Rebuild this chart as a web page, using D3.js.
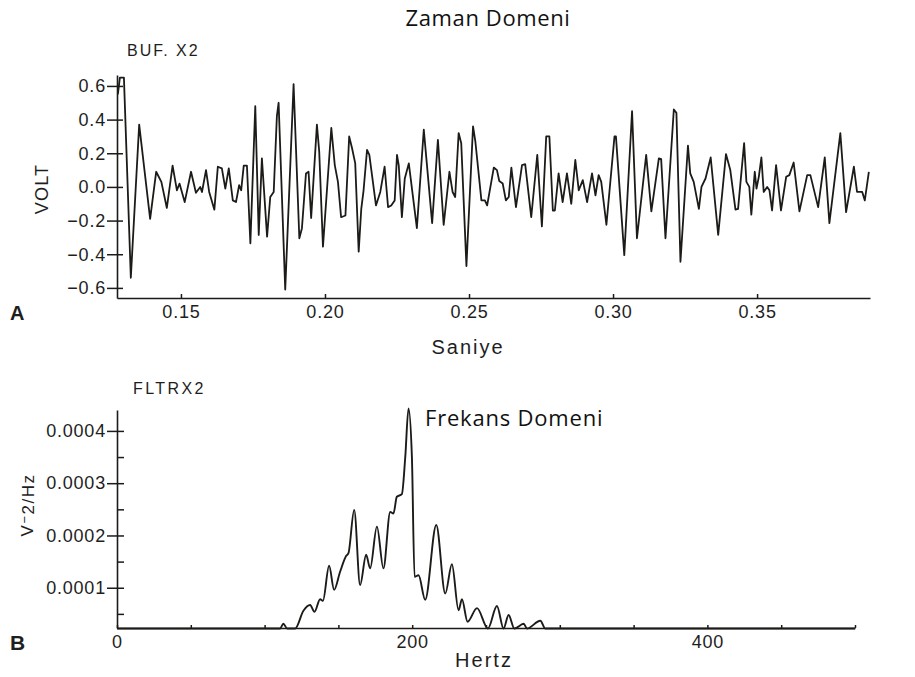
<!DOCTYPE html>
<html>
<head>
<meta charset="utf-8">
<script src="https://cdn.jsdelivr.net/npm/d3@7"></script>
<style>
  html, body { margin: 0; padding: 0; background: #fff; }
  svg { display: block; }
  .tick text { font-family: "Liberation Sans", Arial, sans-serif; font-size: 18px; letter-spacing: 0.8px; fill: #1e1e1e; }
  .plate { font-family: "Liberation Sans", Arial, sans-serif; fill: #1e1e1e; }
  .note { font-family: "Open Sans", sans-serif; fill: #111; }
</style>
</head>
<body>
<svg id="chart" width="915" height="677"></svg>
<script>
// ---- Panel A: time-domain trace (seconds, volts) ----
const timeSec = [
  0.1281,0.1288,0.1302,0.1326,0.1355,0.1393,0.1414,0.1432,0.1451,0.1471,
  0.1486,0.1495,0.1513,0.1535,0.1552,0.1567,0.1573,0.1587,0.1598,0.1616,
  0.1628,0.1642,0.1654,0.1666,0.1680,0.1691,0.1702,0.1709,0.1718,0.1729,
  0.1741,0.1758,0.1770,0.1781,0.1799,0.1810,0.1822,0.1833,0.1839,0.1862,
  0.1891,0.1911,0.1920,0.1934,0.1943,0.1952,0.1972,0.1980,0.1993,0.2022,
  0.2034,0.2045,0.2056,0.2071,0.2084,0.2094,0.2105,0.2117,0.2126,0.2134,
  0.2146,0.2154,0.2177,0.2192,0.2207,0.2219,0.2230,0.2242,0.2250,0.2256,
  0.2267,0.2277,0.2291,0.2319,0.2343,0.2372,0.2392,0.2412,0.2432,0.2443,
  0.2452,0.2464,0.2473,0.2491,0.2514,0.2522,0.2543,0.2555,0.2563,0.2586,
  0.2597,0.2605,0.2617,0.2628,0.2638,0.2647,0.2663,0.2684,0.2695,0.2716,
  0.2737,0.2753,0.2768,0.2779,0.2791,0.2798,0.2811,0.2825,0.2840,0.2855,
  0.2869,0.2881,0.2895,0.2910,0.2927,0.2939,0.2950,0.2959,0.2977,0.3005,
  0.3010,0.3039,0.3066,0.3083,0.3115,0.3133,0.3159,0.3167,0.3182,0.3211,
  0.3220,0.3234,0.3260,0.3268,0.3280,0.3298,0.3307,0.3321,0.3339,0.3365,
  0.3392,0.3407,0.3425,0.3434,0.3455,0.3463,0.3473,0.3480,0.3492,0.3498,
  0.3506,0.3515,0.3523,0.3535,0.3543,0.3552,0.3566,0.3583,0.3601,0.3612,
  0.3627,0.3647,0.3674,0.3685,0.3712,0.3735,0.3751,0.3789,0.3809,0.3836,
  0.3847,0.3865,0.3874,0.3888
];
const volts = [
  0.55,0.65,0.65,-0.54,0.37,-0.19,0.09,0.03,-0.125,0.127,
  -0.02,0.02,-0.09,0.09,-0.035,0.00,-0.03,0.10,-0.03,-0.135,
  0.12,0.11,-0.01,0.11,-0.08,-0.09,0.01,-0.02,0.127,0.127,
  -0.335,0.48,-0.285,0.17,-0.295,-0.06,-0.03,0.42,0.50,-0.61,
  0.61,-0.305,-0.245,0.08,0.09,-0.185,0.37,0.21,-0.355,0.35,
  0.13,0.03,-0.18,-0.17,0.30,0.23,0.14,-0.385,-0.13,-0.02,
  0.22,0.19,-0.11,-0.03,0.12,-0.12,-0.11,-0.08,0.19,0.13,
  -0.18,0.05,0.14,-0.245,0.34,-0.215,0.28,-0.225,0.09,-0.03,
  -0.06,0.32,0.26,-0.47,0.36,0.27,-0.08,-0.08,-0.11,0.115,
  0.10,0.035,0.02,-0.08,-0.06,0.115,-0.12,0.13,0.135,-0.18,
  0.19,-0.235,0.30,0.30,-0.14,-0.14,0.08,-0.09,0.08,-0.10,
  0.16,-0.02,0.04,-0.09,0.08,-0.05,0.07,0.03,-0.225,0.30,
  0.30,-0.405,0.45,-0.305,0.19,-0.145,0.17,0.165,-0.305,0.46,
  0.44,-0.445,0.245,0.08,0.03,-0.13,0.00,0.05,0.175,-0.285,
  0.195,0.10,-0.135,-0.13,0.26,0.03,0.00,-0.165,0.09,-0.01,
  0.06,0.175,-0.03,0.00,-0.02,-0.14,0.13,-0.14,0.06,0.07,
  0.145,-0.145,0.07,0.07,-0.12,0.175,-0.215,0.32,-0.15,0.12,
  -0.03,-0.03,-0.08,0.09
];
const timeTicks = [0.15, 0.20, 0.25, 0.30, 0.35];
const voltTicks = [-0.6, -0.4, -0.2, 0.0, 0.2, 0.4, 0.6];

// ---- Panel B: power spectrum (Hz, V^2/Hz) ----
const freqHz = [
  0,110.5,112.7,115.3,120.7,126.3,130.8,133.8,137.6,139.5,
  143.7,147.1,151.2,155.3,156.8,160.7,164.7,168.8,171.5,176.1,
  180.5,185.1,187.3,189.6,193.0,195.3,197.5,199.8,201.6,204.3,
  208.8,216.3,222.4,226.9,231.4,233.7,237.5,243.9,251.3,257.4,
  261.9,265.3,269.2,275.5,277.8,286.8,290.2,500
];
const psd = [
  0.000022,0.000022,0.000031,0.000022,0.000022,0.000056,0.000067,0.000054,0.000078,0.000075,
  0.000142,0.000096,0.000131,0.000161,0.000166,0.000249,0.000105,0.000163,0.000137,0.000217,
  0.000137,0.000245,0.000242,0.000274,0.000279,0.000350,0.000443,0.000350,0.000121,0.000124,
  0.000077,0.000220,0.000089,0.000145,0.000057,0.000078,0.000035,0.000061,0.000022,0.000065,
  0.000022,0.000048,0.000022,0.000031,0.000022,0.000037,0.000022,0.000022
];
const freqTicks = [0, 50, 100, 150, 200, 250, 300, 350, 400, 450, 500];
const freqLabels = [0, 200, 400];
const psdTicks = [0.0001, 0.0002, 0.0003, 0.0004];
const psdMinorTicks = [0.00005, 0.00015, 0.00025, 0.00035];

const ink = "#1d1b18";
const svg = d3.select("#chart");
svg.append("rect").attr("width", 915).attr("height", 677).attr("fill", "#fff");

// ================= Panel A =================
const xT = d3.scaleLinear().domain([0.1278, 0.3892]).range([117, 870]);
const yV = d3.scaleLinear().domain([-0.66, 0.665]).range([298, 75]);

const gA = svg.append("g");

const axA_y = gA.append("g").attr("transform", `translate(${xT.range()[0]},0)`)
  .call(d3.axisLeft(yV).tickValues(voltTicks).tickFormat(d3.format(".1f"))
        .tickSizeInner(10).tickSizeOuter(0).tickPadding(1));
axA_y.selectAll(".tick line").attr("x1", 6);

const axA_x = gA.append("g").attr("transform", `translate(0,${yV.range()[0]})`)
  .call(d3.axisBottom(xT).tickValues(timeTicks).tickFormat(d3.format(".2f"))
        .tickSizeInner(-4).tickSizeOuter(0).tickPadding(7));

[axA_y, axA_x].forEach(a => {
  a.select(".domain").attr("stroke", ink).attr("stroke-width", 1.6);
  a.selectAll(".tick line").attr("stroke", ink).attr("stroke-width", 1.5);
});

const trace = d3.line()
  .x(i => xT(timeSec[i]))
  .y(i => yV(volts[i]));
gA.append("path")
  .attr("d", trace(d3.range(timeSec.length)))
  .attr("fill", "none").attr("stroke", ink)
  .attr("stroke-width", 1.8).attr("stroke-linejoin", "round");

gA.append("text").attr("class", "plate")
  .attr("x", 127).attr("y", 56)
  .style("font-size", "16px").style("letter-spacing", "2px")
  .text("BUF. X2");
gA.append("text").attr("class", "plate")
  .attr("transform", "translate(48,189) rotate(-90)")
  .attr("text-anchor", "middle")
  .style("font-size", "18px").style("letter-spacing", "1.2px")
  .text("VOLT");
gA.append("text").attr("class", "plate")
  .attr("x", 10).attr("y", 320)
  .style("font-size", "20px").style("font-weight", "bold")
  .text("A");
gA.append("text").attr("class", "note")
  .attr("x", 468).attr("y", 354).attr("text-anchor", "middle")
  .style("font-family", "'Liberation Sans', Arial, sans-serif")
  .style("font-size", "20px").style("letter-spacing", "2px").style("fill", "#1e1e1e")
  .text("Saniye");
svg.append("text").attr("class", "note")
  .attr("x", 488).attr("y", 26).attr("text-anchor", "middle")
  .style("font-size", "22px").style("letter-spacing", "0.6px")
  .text("Zaman Domeni");

// ================= Panel B =================
const xF = d3.scaleLinear().domain([0, 500]).range([117, 855]);
const yP = d3.scaleLinear().domain([0.000023, 0.00044]).range([628, 410]);

const gB = svg.append("g");

const axB_y = gB.append("g").attr("transform", `translate(${xF.range()[0]},0)`)
  .call(d3.axisLeft(yP).tickValues(psdTicks).tickFormat(d3.format(".4f"))
        .tickSizeInner(10).tickSizeOuter(0).tickPadding(1));
axB_y.selectAll(".tick line").attr("x1", 7);

gB.append("g").attr("transform", `translate(${xF.range()[0]},0)`)
  .call(d3.axisRight(yP).tickValues(psdMinorTicks).tickFormat("")
        .tickSizeInner(7).tickSizeOuter(0))
  .call(a => a.select(".domain").remove())
  .selectAll(".tick line").attr("stroke", ink).attr("stroke-width", 1.5);

const axB_x = gB.append("g").attr("transform", `translate(0,${yP.range()[0]})`)
  .call(d3.axisBottom(xF).tickValues(freqTicks)
        .tickFormat(d => freqLabels.includes(d) ? d3.format("d")(d) : "")
        .tickSizeInner(-3).tickSizeOuter(0).tickPadding(7));

[axB_y, axB_x].forEach(a => {
  a.select(".domain").attr("stroke", ink).attr("stroke-width", 1.6);
  a.selectAll(".tick line").attr("stroke", ink).attr("stroke-width", 1.5);
});

const spectrum = d3.line()
  .curve(d3.curveMonotoneX)
  .x(i => xF(freqHz[i]))
  .y(i => yP(psd[i]));
gB.append("path")
  .attr("d", spectrum(d3.range(freqHz.length)))
  .attr("fill", "none").attr("stroke", ink)
  .attr("stroke-width", 1.9).attr("stroke-linejoin", "round");

gB.append("text").attr("class", "plate")
  .attr("x", 133).attr("y", 394)
  .style("font-size", "16px").style("letter-spacing", "2.4px")
  .text("FLTRX2");
const ylab = gB.append("text").attr("class", "plate")
  .attr("transform", "translate(33,505) rotate(-90)")
  .attr("text-anchor", "middle")
  .style("font-size", "17px").style("letter-spacing", "1.5px");
ylab.append("tspan").text("V");
ylab.append("tspan").attr("dy", "-0.3em").style("font-size", "13px").text("\u2212");
ylab.append("tspan").attr("dy", "0.3em").text("2/Hz");
gB.append("text").attr("class", "plate")
  .attr("x", 10).attr("y", 650)
  .style("font-size", "21px").style("font-weight", "bold")
  .text("B");
gB.append("text").attr("class", "note")
  .attr("x", 484).attr("y", 667).attr("text-anchor", "middle")
  .style("font-family", "'Liberation Sans', Arial, sans-serif")
  .style("font-size", "20px").style("letter-spacing", "2px").style("fill", "#1e1e1e")
  .text("Hertz");
gB.append("text").attr("class", "note")
  .attr("x", 425).attr("y", 426)
  .style("font-size", "22px").style("letter-spacing", "0.8px")
  .text("Frekans Domeni");
</script>
</body>
</html>
